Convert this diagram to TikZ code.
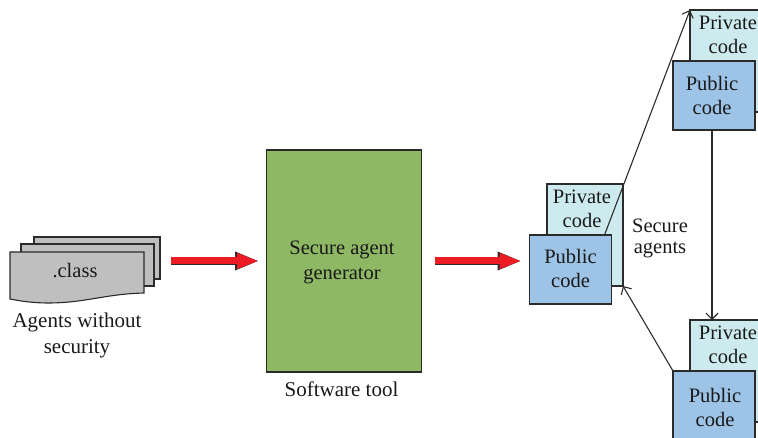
\documentclass[tikz,border=0pt]{standalone}
\usepackage{fontspec}
\setmainfont{Liberation Serif}
\usetikzlibrary{arrows.meta}
\definecolor{linegrey}{HTML}{2B2B2B}
\definecolor{docgrey}{HTML}{BFBFBF}
\definecolor{gengreen}{HTML}{8FB865}
\definecolor{pubblue}{HTML}{9DC3E6}
\definecolor{privcyan}{HTML}{CDEBEE}
\definecolor{arrowred}{HTML}{ED1C24}
\tikzset{
  txt/.style={font=\fontsize{20.5}{24}\selectfont, align=center, inner sep=0pt, text=black!90},
  box/.style={draw=linegrey, line width=1.1pt, inner sep=0pt, outer sep=0pt},
  pubbox/.style={box, fill=pubblue, minimum width=82pt, minimum height=69pt},
  privbox/.style={box, fill=privcyan, minimum width=76pt, minimum height=102pt},
  conn/.style={draw=linegrey, line width=1.1pt, ->, >={Straight Barb[length=6pt,width=12pt]}},
  redarrow/.style={
    preaction={draw=linegrey, line width=8pt, -{Triangle[length=24pt,width=17pt]}},
    draw=arrowred, line width=7pt, -{Triangle[length=22pt,width=14.5pt,color=arrowred]}}
}
\begin{document}
\begin{tikzpicture}[x=1pt,y=-1pt]
  \useasboundingbox (0,0) rectangle (758,438);

  \draw[box, fill=docgrey] (34,237) rectangle (160,279);
  \draw[box, fill=docgrey] (21,244) rectangle (154,286);
  \draw[box, fill=docgrey] (10,252) -- (144,252) -- (144,293)
    .. controls (105,294) and (85,303) .. (48,303)
    .. controls (33,303) and (20,301) .. (10,299) -- cycle;
  \node[txt] (classdoc) at (75,271) {.class};
  \node[txt, font=\fontsize{21}{26}\selectfont] (nosec) at (77,335) {Agents without\\security};
  \coordinate (docend) at (160,261);

  \node[box, fill=gengreen, minimum width=155pt, minimum height=222pt] (gen) at (344,261) {};
  \node[txt, font=\fontsize{20.5}{25}\selectfont] (gentext) at (342,262.5) {Secure agent\\generator};
  \node[txt, font=\fontsize{21}{24}\selectfont] (tool) at (341.5,389) {Software tool};

  \foreach \nm/\x/\y/\tx in {mid/547/184/582,top/690/10/728,bot/690/320/728}
    {
    \node[privbox, anchor=north west] (priv\nm) at (\x,\y) {};
    \node[txt, anchor=north] (privtext\nm) at (\tx,\y+6) {Private\\code};
    }
  \foreach \nm/\x/\y/\tx/\ty in {mid/529.5/235/570.5/268,top/673/61/712/95,bot/673/371/715/407.5}
    {
    \node[pubbox, anchor=north west] (pub\nm) at (\x,\y) {};
    \node[txt] (pubtext\nm) at (\tx,\ty) {Public\\code};
    }

  \node[txt, font=\fontsize{20.5}{21}\selectfont] (secure) at (660,238) {Secure\\agents};

  \draw[redarrow, shorten <=11pt, shorten >=7.5pt] (docend) -- (gen.west);
  \draw[redarrow, shorten <=13pt, shorten >=8pt] (gen.east) -- (pubmid.west |- gen.east);

  \draw[conn] ([xshift=-7pt]pubmid.north east) -- (privtop.north west);
  \draw[conn] ([xshift=-2pt]pubtop.south) -- (privbot.north -| 712,0);
  \draw[conn] (pubbot.north west) -- (privmid.south east);
\end{tikzpicture}
\end{document}
